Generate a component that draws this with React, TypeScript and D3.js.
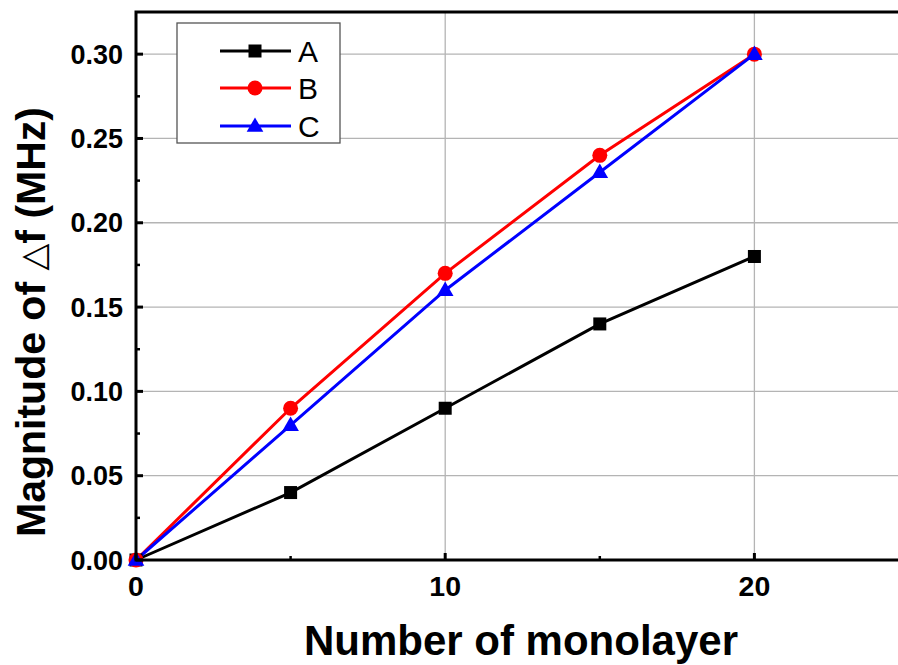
import React from "react";
import * as d3 from "d3";

const layers = [0, 5, 10, 15, 20];
const seriesA = [0, 0.04, 0.09, 0.14, 0.18];
const seriesB = [0, 0.09, 0.17, 0.24, 0.3];
const seriesC = [0, 0.08, 0.16, 0.23, 0.3];
const seriesNames = ["A", "B", "C"];
const seriesColors = ["#000000", "#ff0000", "#0000ff"];
const seriesShapes = ["square", "circle", "triangle"];
const xMajorTicks = [0, 10, 20];
const xMinorTicks = [5, 15];
const yMajorTicks = [0, 0.05, 0.1, 0.15, 0.2, 0.25, 0.3];
const yMinorTicks = [0.025, 0.075, 0.125, 0.175, 0.225, 0.275];

const W = 898;
const H = 665;
const left = 136;
const right = 909;
const top = 12;
const bottom = 560;

const FONT = "'Liberation Sans', Arial, sans-serif";

function Marker({ shape, x, y, color }: { shape: string; x: number; y: number; color: string }) {
  if (shape === "square") {
    return <rect x={x - 6.5} y={y - 6.5} width={13} height={13} fill={color} />;
  }
  if (shape === "circle") {
    return <circle cx={x} cy={y} r={7.5} fill={color} />;
  }
  const sym = d3.symbol().type(d3.symbolTriangle).size(120)();
  return <path d={sym || ""} transform={`translate(${x},${y + 1})`} fill={color} />;
}

export default function App() {
  const x = d3.scaleLinear().domain([0, 25]).range([left, right]);
  const y = d3.scaleLinear().domain([0, 0.325]).range([bottom, top]);
  const allSeries = [seriesA, seriesB, seriesC];
  const line = d3
    .line<number>()
    .x((_, i) => x(layers[i]))
    .y((d) => y(d));

  const legendX = 177;
  const legendY = 23;
  const legendW = 163;
  const legendH = 120;
  const rowY = [51, 88, 126];

  return (
    <svg
      width={W}
      height={H}
      style={{ position: "absolute", left: 0, top: 0, background: "#fff" }}
      fontFamily={FONT}
    >
      <rect x={0} y={0} width={W} height={H} fill="#fff" />
      {/* grid */}
      {xMajorTicks.filter((t) => t > 0).map((t) => (
        <line key={"gx" + t} x1={x(t)} x2={x(t)} y1={y(0)} y2={y(0.325)} stroke="#b4b4b4" strokeWidth={1.3} />
      ))}
      {yMajorTicks.filter((t) => t > 0).map((t) => (
        <line key={"gy" + t} x1={x(0)} x2={x(25)} y1={y(t)} y2={y(t)} stroke="#b4b4b4" strokeWidth={1.3} />
      ))}

      {/* series lines */}
      {allSeries.map((s, i) => (
        <path key={"l" + i} d={line(s) || ""} fill="none" stroke={seriesColors[i]} strokeWidth={3} />
      ))}
      {allSeries.map((s, i) =>
        s.map((v, j) => (
          <Marker key={`m${i}-${j}`} shape={seriesShapes[i]} x={x(layers[j])} y={y(v)} color={seriesColors[i]} />
        ))
      )}

      {/* frame */}
      <rect x={left} y={top} width={right - left} height={bottom - top} fill="none" stroke="#000" strokeWidth={3} />

      {/* ticks */}
      {xMajorTicks.map((t) => (
        <g key={"xt" + t}>
          <line x1={x(t)} x2={x(t)} y1={bottom} y2={bottom - 7} stroke="#000" strokeWidth={3} />
          <text x={x(t)} y={596} textAnchor="middle" fontSize={28.5} fontWeight="bold">
            {t}
          </text>
        </g>
      ))}
      {xMinorTicks.map((t) => (
        <line key={"xm" + t} x1={x(t)} x2={x(t)} y1={bottom} y2={bottom - 4} stroke="#000" strokeWidth={2.5} />
      ))}
      {yMajorTicks.map((t) => (
        <g key={"yt" + t}>
          <line x1={left} x2={left + 7} y1={y(t)} y2={y(t)} stroke="#000" strokeWidth={3} />
          <text x={123} y={y(t) + 9.5} textAnchor="end" fontSize={27} fontWeight="bold">
            {t.toFixed(2)}
          </text>
        </g>
      ))}
      {yMinorTicks.map((t) => (
        <line key={"ym" + t} x1={left} x2={left + 4} y1={y(t)} y2={y(t)} stroke="#000" strokeWidth={2.5} />
      ))}

      {/* axis titles */}
      <text x={521} y={655} textAnchor="middle" fontSize={42} fontWeight="bold">
        Number of monolayer
      </text>
      <text
        transform="translate(45,322) rotate(-90)"
        textAnchor="middle"
        fontSize={41}
        fontWeight="bold"
      >
        Magnitude of <tspan fontWeight="normal" fontFamily="'DejaVu Sans', sans-serif" fontSize={35}>△</tspan>f (MHz)
      </text>

      {/* legend */}
      <rect x={legendX} y={legendY} width={legendW} height={legendH} fill="#fff" stroke="#555" strokeWidth={1.3} />
      {seriesNames.map((n, i) => (
        <g key={"lg" + n}>
          <line x1={220} x2={291} y1={rowY[i]} y2={rowY[i]} stroke={seriesColors[i]} strokeWidth={3} />
          <Marker shape={seriesShapes[i]} x={255} y={rowY[i]} color={seriesColors[i]} />
          <text x={298} y={rowY[i] + 11} fontSize={30}>
            {n}
          </text>
        </g>
      ))}
    </svg>
  );
}
